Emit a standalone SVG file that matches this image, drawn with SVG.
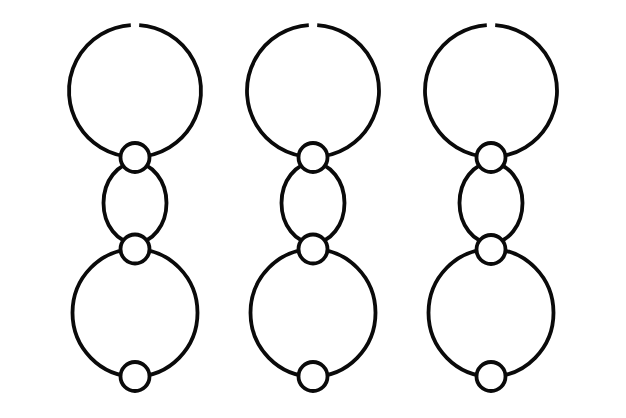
<svg xmlns="http://www.w3.org/2000/svg" width="626" height="418" viewBox="0 0 626 418">
  <style>
    .ln { fill: none; stroke: #0a0a0a; stroke-width: 3.8; }
    .nd { fill: #ffffff; stroke: #0a0a0a; stroke-width: 3.8; }
  </style>
  <defs>
    <g id="loops">
      <path class="ln" d="M 4.2 25.12 A 66 66 0 1 1 -4.2 25.12"/>
      <ellipse class="ln" cx="0" cy="203" rx="31.5" ry="40"/>
      <ellipse class="ln" cx="0" cy="312.8" rx="62.5" ry="63.7"/>
    </g>
  </defs>
  <rect width="626" height="418" fill="#ffffff"/>
  <g id="connectors">
    <use href="#loops" x="135"/>
    <use href="#loops" x="313"/>
    <use href="#loops" x="491"/>
  </g>
  <g id="col1">
    <g id="n1a"><circle class="nd" cx="135" cy="157.5" r="14.5"/></g>
    <g id="n1b"><circle class="nd" cx="135" cy="249" r="14.5"/></g>
    <g id="n1c"><circle class="nd" cx="135" cy="376.5" r="14.5"/></g>
  </g>
  <g id="col2">
    <g id="n2a"><circle class="nd" cx="313" cy="157.5" r="14.5"/></g>
    <g id="n2b"><circle class="nd" cx="313" cy="249" r="14.5"/></g>
    <g id="n2c"><circle class="nd" cx="313" cy="376.5" r="14.5"/></g>
  </g>
  <g id="col3">
    <g id="n3a"><circle class="nd" cx="491" cy="157.5" r="14.5"/></g>
    <g id="n3b"><circle class="nd" cx="491" cy="249.5" r="14.5"/></g>
    <g id="n3c"><circle class="nd" cx="491" cy="376.5" r="14.5"/></g>
  </g>
</svg>
